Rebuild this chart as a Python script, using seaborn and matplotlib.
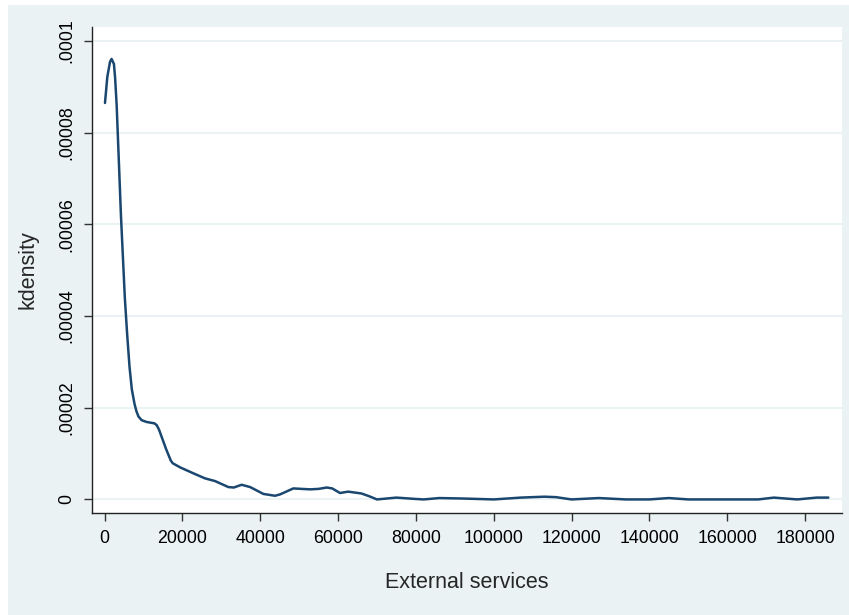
import numpy as np
import pandas as pd
import matplotlib
matplotlib.use("Agg")
import matplotlib.pyplot as plt
from matplotlib.patches import Rectangle
import seaborn as sns

# ==========================================
# DATA
# ==========================================
x_vals = [100, 700, 1400, 1800, 2400, 2700, 3100, 3700, 4200, 4700,
          5200, 5800, 6400, 7000, 7700, 8200, 8700, 9500, 10800, 12800,
          13400, 14000, 15800, 17000, 17500, 19400, 22800, 25800, 28400, 31800,
          33200, 35200, 37400, 40800, 43800, 45100, 48500, 52800, 55000, 57100,
          58500, 60500, 62600, 66000, 68000, 70000, 75000, 80000, 82000, 86000,
          92000, 100000, 107000, 113000, 116000, 120000, 127000, 134000, 140000, 145000,
          150000, 160000, 168000, 172000, 178000, 183000, 186000]
y_vals = [8.65e-5, 9.22e-5, 9.55e-5, 9.61e-5, 9.50e-5, 9.2e-5, 8.6e-5, 7.3e-5, 6.2e-5, 5.3e-5,
          4.4e-5, 3.6e-5, 2.9e-5, 2.4e-5, 2.08e-5, 1.92e-5, 1.81e-5, 1.73e-5, 1.69e-5, 1.66e-5,
          1.62e-5, 1.52e-5, 1.1e-5, 8.5e-6, 7.9e-6, 7.0e-6, 5.7e-6, 4.6e-6, 4.0e-6, 2.7e-6,
          2.6e-6, 3.2e-6, 2.7e-6, 1.2e-6, 0.8e-6, 1.1e-6, 2.4e-6, 2.2e-6, 2.3e-6, 2.6e-6,
          2.4e-6, 1.4e-6, 1.7e-6, 1.3e-6, 0.7e-6, 0.0, 0.4e-6, 0.1e-6, 0.0, 0.3e-6,
          0.2e-6, 0.0, 0.4e-6, 0.6e-6, 0.5e-6, 0.0, 0.3e-6, 0.0, 0.0, 0.3e-6,
          0.0, 0.0, 0.0, 0.4e-6, 0.0, 0.4e-6, 0.4e-6]

x_ticks = [0, 20000, 40000, 60000, 80000, 100000, 120000, 140000, 160000, 180000]
y_ticks = [0, 0.00002, 0.00004, 0.00006, 0.00008, 0.0001]
y_tick_labels = ["0", ".00002", ".00004", ".00006", ".00008", ".0001"]

BG = "#EAF2F3"
LINE = "#1A476F"

sns.set_theme(style="white")
plt.rcParams['font.family'] = ['Liberation Sans', 'DejaVu Sans']

df = pd.DataFrame({"x": x_vals, "y": y_vals})

fig = plt.figure(figsize=(8.49, 6.15), dpi=100)
fig.patch.set_facecolor("white")
bg = Rectangle((8 / 849, 0), 1 - 8 / 849, 1 - 5 / 615,
               transform=fig.transFigure, facecolor=BG, edgecolor="none", zorder=-10)
fig.add_artist(bg)

ax = fig.add_axes([0.108, 0.166, 0.884, 0.790])
ax.set_facecolor("white")

sns.lineplot(data=df, x="x", y="y", ax=ax, color=LINE, linewidth=1.8, zorder=3)

ax.set_xlim(-3316, 189560)
ax.set_ylim(-2.94e-6, 1.0306e-4)

ax.set_xticks(x_ticks)
ax.set_xticklabels([str(t) for t in x_ticks], fontsize=12.8)
ax.set_yticks(y_ticks)
ax.set_yticklabels(y_tick_labels, fontsize=12.8, rotation=90, va="center")

for y in y_ticks:
    ax.axhline(y, color=BG, linewidth=1.5, zorder=1)

sns.despine(ax=ax, top=True, right=True)
for s in ["left", "bottom"]:
    ax.spines[s].set_color("#222222")
    ax.spines[s].set_linewidth(1.0)

ax.tick_params(axis="both", which="major", direction="out", length=6, width=1,
               color="#333333", labelcolor="black", bottom=True, left=True, pad=6)

ax.set_xlabel("External services", fontsize=15.5, labelpad=18)
ax.set_ylabel("kdensity", fontsize=15.5, labelpad=14)

fig.savefig("out.png", dpi=100)
